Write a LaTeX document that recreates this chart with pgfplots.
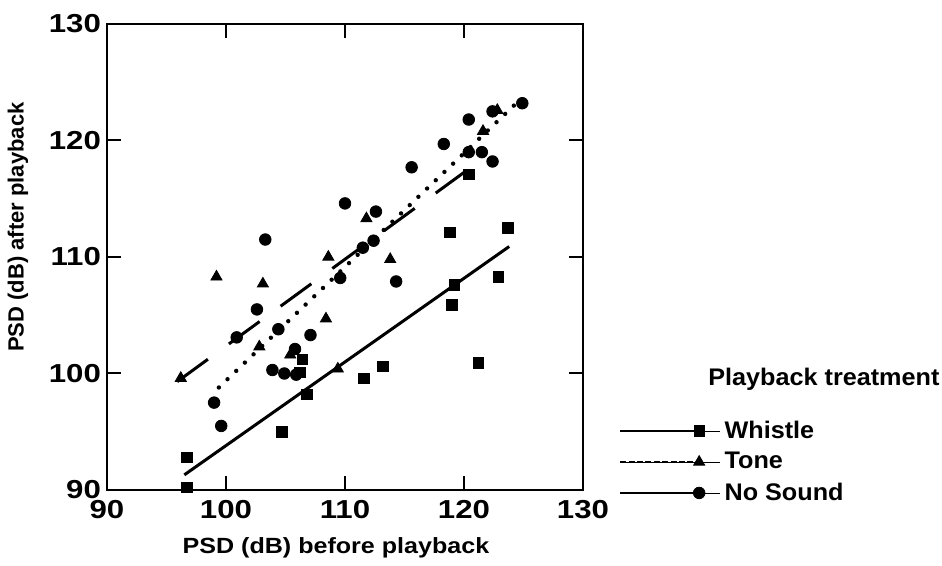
\documentclass[border=0pt]{standalone}
\usepackage{fontspec}
\setmainfont{Liberation Sans}
\newfontfamily\tickfont{Liberation Sans}[FakeStretch=1.2]
\newfontfamily\xlabfont{Liberation Sans}[FakeStretch=1.14]
\newfontfamily\ylabfont{Liberation Sans}[FakeStretch=1.0]
\newfontfamily\legfont{Liberation Sans}[FakeStretch=1.05]
\usepackage{pgfplots}
\pgfplotsset{compat=1.18}
\begin{document}
\begin{tikzpicture}
\useasboundingbox (-53.5pt,-38pt) rectangle (417.5pt,245pt);
\begin{axis}[
  at={(0,0)}, anchor=south west,
  scale only axis, width=238pt, height=233pt,
  xmin=90, xmax=130, ymin=90, ymax=130,
  xtick={90,100,110,120,130}, ytick={90,100,110,120,130},
  tick align=inside, major tick length=7pt,
  tick style={line width=1pt, black},
  axis line style={line width=1pt},
  clip=false,
  /pgf/number format/assume math mode=true,
  ticklabel style={font=\tickfont\bfseries\fontsize{13}{15}\selectfont},
  xticklabel style={yshift=-1.5pt},
  yticklabel style={xshift=0.5pt},
  xlabel={PSD (dB) before playback},
  ylabel={PSD (dB) after playback},
  xlabel style={font=\xlabfont\bfseries\fontsize{11}{13}\selectfont, at={(axis description cs:0.481,-0.1245)}, anchor=center},
  ylabel style={font=\ylabfont\bfseries\fontsize{11}{13}\selectfont, at={(axis description cs:-0.187,0.564)}, anchor=center},
  legend style={draw=none, fill=none, at={(rel axis cs:1.063,0.1664)}, anchor=north west,
    font=\legfont\bfseries\fontsize{12}{14}\selectfont, row sep=1.5pt,
    nodes={inner sep=2pt}},
  legend cell align=left,
]
% regression lines
\addplot[black, line width=1.5pt, forget plot] coordinates {(96.5,91.3) (123.8,110.9)};
\addplot[black, line width=1.5pt, dash pattern=on 19pt off 13pt, forget plot] coordinates {(95.9,99.3) (121.8,118.6)};
\addplot[black, line width=2.2pt, line cap=round, dash pattern=on 0pt off 6pt, forget plot] coordinates {(99.4,98.8) (124.4,123.2)};
% Whistle
\addplot[only marks, mark=square*, mark size=2.6pt, black,
  legend image code/.code={\path (0pt,0pt) -- (50pt,0pt); \draw[black,line width=0.8pt] (0pt,0pt) -- (37pt,0pt); \draw[black,mark=square*,mark size=2.6pt] plot coordinates {(39.5pt,0pt)};}]
  coordinates {
  (96.7,90.2) (96.7,92.8) (104.7,95.0) (106.8,98.2) (106.2,100.1) (106.4,101.2)
  (111.6,99.6) (113.2,100.6) (119.0,105.9) (121.2,100.9) (118.8,112.1) (123.7,112.5)
  (119.2,107.6) (122.9,108.3) (120.4,117.1)};
\addlegendentry{Whistle}
% Tone
\addplot[only marks, mark=triangle*, mark size=3.2pt, black,
  legend image code/.code={\path (0pt,0pt) -- (50pt,0pt); \draw[black,line width=0.8pt,dash pattern=on 3pt off 1.2pt] (0pt,0pt) -- (37pt,0pt); \draw[black,mark=triangle*,mark size=3.2pt] plot coordinates {(39.5pt,0pt)};}]
  coordinates {
  (96.2,99.6) (99.2,108.3) (103.1,107.7) (102.8,102.3) (105.4,101.6) (108.4,104.7)
  (108.6,110.0) (109.4,100.4) (111.8,113.3) (113.8,109.8) (121.6,120.8) (122.8,122.6)};
\addlegendentry{Tone}
% No Sound
\addplot[only marks, mark=*, mark size=2.9pt, black,
  legend image code/.code={\path (0pt,0pt) -- (50pt,0pt); \draw[black,line width=0.8pt] (0pt,0pt) -- (37pt,0pt); \draw[black,mark=*,mark size=2.9pt] plot coordinates {(39.5pt,0pt)};}]
  coordinates {
  (99.0,97.5) (99.6,95.5) (100.9,103.1) (102.6,105.5) (103.3,111.5) (103.9,100.3)
  (104.4,103.8) (104.9,100.0) (105.9,99.9) (105.8,102.1) (107.1,103.3) (109.6,108.2)
  (110.0,114.6) (111.5,110.8) (112.4,111.4) (112.6,113.9) (114.3,107.9) (115.6,117.7)
  (118.3,119.7) (120.4,121.8) (120.4,119.0) (121.5,119.0) (122.4,118.2) (122.4,122.5)
  (124.9,123.2)};
\addlegendentry{No Sound}
\node[anchor=base west, font=\legfont\bfseries\fontsize{12}{14}\selectfont, inner sep=0pt]
  at (rel axis cs:1.2626,0.2232) {Playback treatment};
\end{axis}
\end{tikzpicture}
\end{document}
